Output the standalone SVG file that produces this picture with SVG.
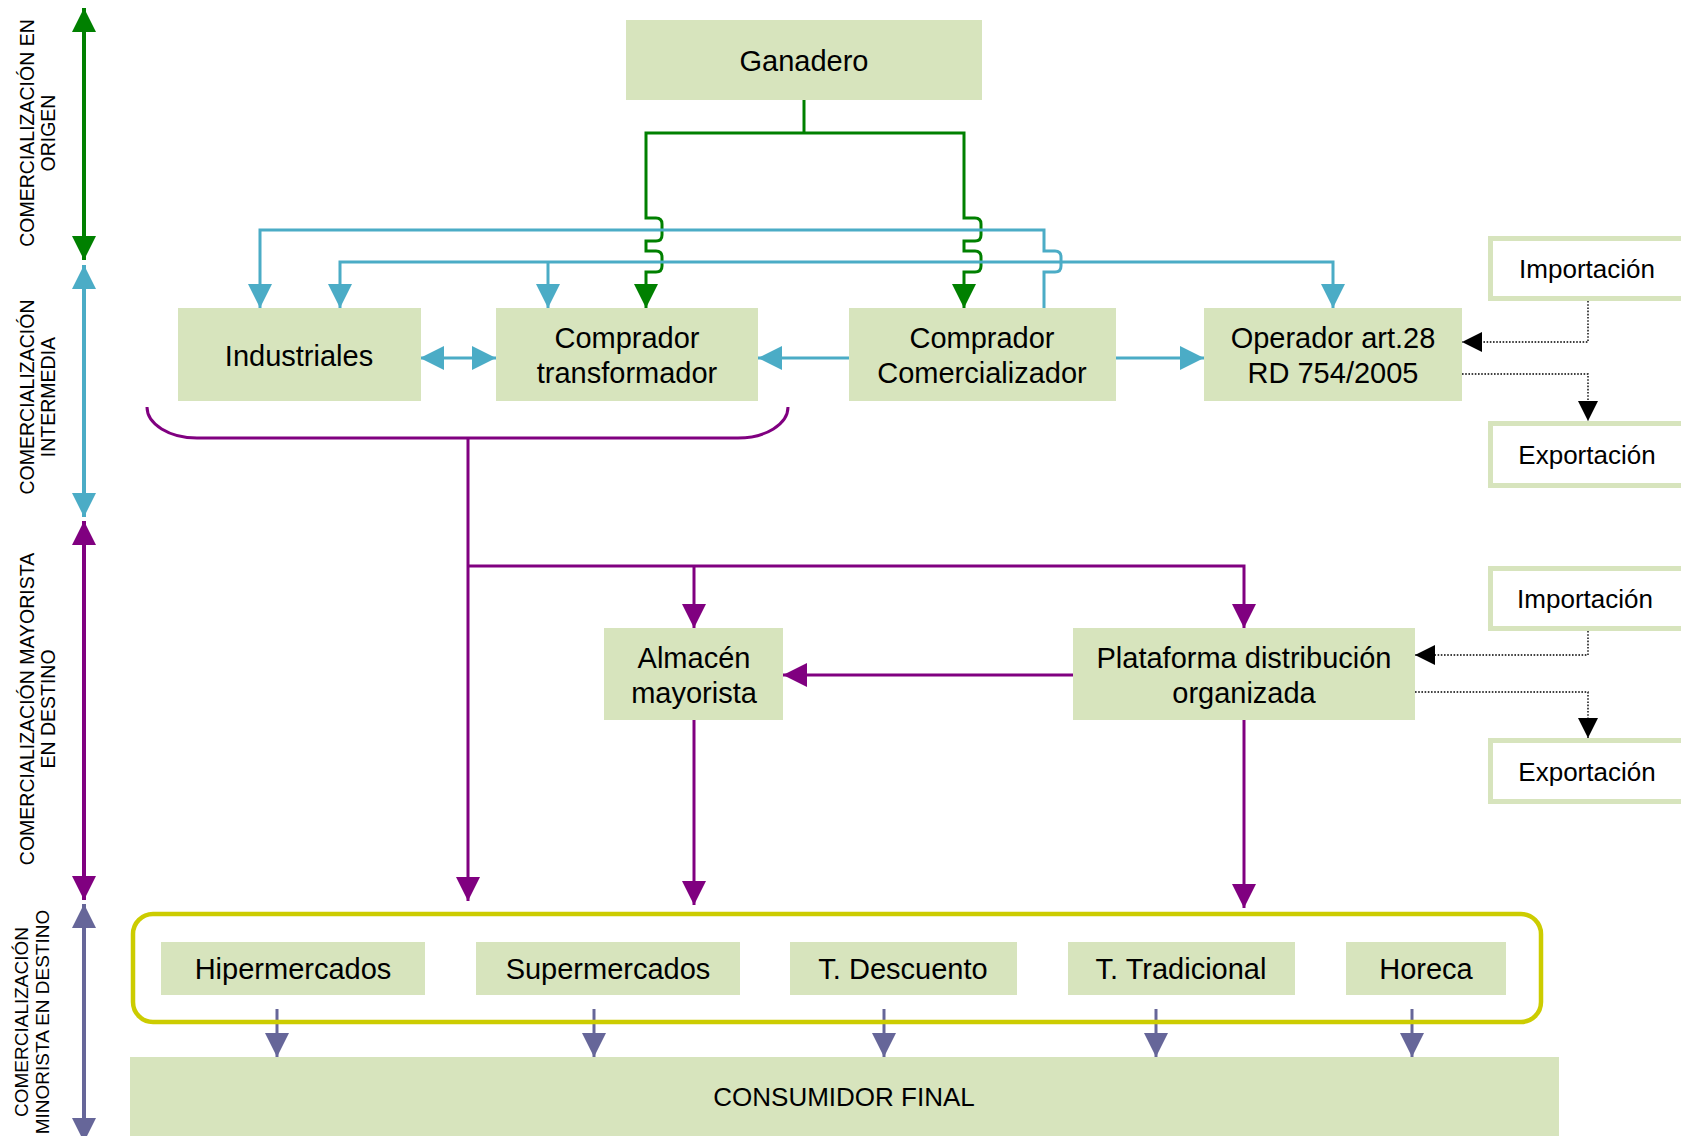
<svg xmlns="http://www.w3.org/2000/svg" width="1681" height="1136" viewBox="0 0 1681 1136">
<style>
.box{fill:#D7E4BD;}
.ext{fill:#FFFFFF;stroke:#D7E4BD;stroke-width:5;}
.t{font-family:"Liberation Sans",Arial,sans-serif;font-size:29px;fill:#000;text-anchor:middle;}
.ts{font-family:"Liberation Sans",Arial,sans-serif;font-size:26px;fill:#000;text-anchor:middle;}
.lab{font-family:"Liberation Sans",Arial,sans-serif;font-size:19.5px;fill:#000;text-anchor:middle;}
.g{fill:none;stroke:#008000;stroke-width:3;}
.b{fill:none;stroke:#4BACC6;stroke-width:3;}
.p{fill:none;stroke:#800080;stroke-width:3;}
.s{fill:none;stroke:#666699;stroke-width:3;}
.d{fill:none;stroke:#000;stroke-width:1.4;stroke-dasharray:1.6,1.6;}
</style>
<defs>
<marker id="aG" markerUnits="userSpaceOnUse" markerWidth="26" markerHeight="26" refX="24" refY="12" orient="auto-start-reverse"><path d="M0,0 L24,12 L0,24 Z" fill="#008000"/></marker>
<marker id="aB" markerUnits="userSpaceOnUse" markerWidth="26" markerHeight="26" refX="24" refY="12" orient="auto-start-reverse"><path d="M0,0 L24,12 L0,24 Z" fill="#4BACC6"/></marker>
<marker id="aP" markerUnits="userSpaceOnUse" markerWidth="26" markerHeight="26" refX="24" refY="12" orient="auto-start-reverse"><path d="M0,0 L24,12 L0,24 Z" fill="#800080"/></marker>
<marker id="aS" markerUnits="userSpaceOnUse" markerWidth="26" markerHeight="26" refX="24" refY="12" orient="auto-start-reverse"><path d="M0,0 L24,12 L0,24 Z" fill="#666699"/></marker>
<marker id="aK" markerUnits="userSpaceOnUse" markerWidth="22" markerHeight="22" refX="20" refY="10" orient="auto"><path d="M0,0 L20,10 L0,20 Z" fill="#000"/></marker>
</defs>

<g id="axis-labels">
<text class="lab" transform="translate(34,133) rotate(-90)">COMERCIALIZACIÓN EN</text>
<text class="lab" transform="translate(55,133) rotate(-90)">ORIGEN</text>
<text class="lab" transform="translate(34,397) rotate(-90)">COMERCIALIZACIÓN</text>
<text class="lab" transform="translate(55,397) rotate(-90)">INTERMEDIA</text>
<text class="lab" transform="translate(34,709) rotate(-90)">COMERCIALIZACIÓN MAYORISTA</text>
<text class="lab" transform="translate(55,709) rotate(-90)">EN DESTINO</text>
<text class="lab" style="font-size:19px" transform="translate(28,1022) rotate(-90)">COMERCIALIZACIÓN</text>
<text class="lab" style="font-size:19px" transform="translate(49,1022) rotate(-90)">MINORISTA EN DESTINO</text>
</g>

<g id="axis-arrows">
<line class="g" style="stroke-width:4" x1="84" y1="8" x2="84" y2="260" marker-start="url(#aG)" marker-end="url(#aG)"/>
<line class="b" style="stroke-width:4" x1="84" y1="265" x2="84" y2="517" marker-start="url(#aB)" marker-end="url(#aB)"/>
<line class="p" style="stroke-width:4" x1="84" y1="521" x2="84" y2="900" marker-start="url(#aP)" marker-end="url(#aP)"/>
<line class="s" style="stroke-width:4" x1="84" y1="904" x2="84" y2="1142" marker-start="url(#aS)" marker-end="url(#aS)"/>
</g>

<g id="connectors">
<!-- green from Ganadero -->
<path class="g" d="M804,100 V133"/>
<path class="g" d="M646,290 V272 H656 Q662,272 662,266 V257 Q662,251 656,251 H646 V241 H656 Q662,241 662,235 V224 Q662,218 656,218 H646 V133 H964 V218 H975 Q981,218 981,224 V235 Q981,241 975,241 H964 V251 H975 Q981,251 981,257 V266 Q981,272 975,272 H964 V308" marker-end="url(#aG)"/>
<path class="g" d="M646,286 V308" marker-end="url(#aG)"/>
<!-- blue line 1 -->
<path class="b" d="M1044,308 V272 H1055 Q1061,272 1061,266 V257 Q1061,251 1055,251 H1044 V230 H260 V308" marker-end="url(#aB)"/>
<!-- blue line 2 -->
<path class="b" d="M340,308 V262 H1333 V308" marker-start="url(#aB)" marker-end="url(#aB)"/>
<path class="b" d="M548,262 V308" marker-end="url(#aB)"/>
<!-- horizontal blue -->
<line class="b" x1="420" y1="358" x2="496" y2="358" marker-start="url(#aB)" marker-end="url(#aB)"/>
<line class="b" x1="849" y1="358" x2="758" y2="358" marker-end="url(#aB)"/>
<line class="b" x1="1116" y1="358" x2="1204" y2="358" marker-end="url(#aB)"/>
<!-- dotted import/export top -->
<path class="d" d="M1588,301 V342 H1462" marker-end="url(#aK)"/>
<path class="d" d="M1462,374 H1588 V421" marker-end="url(#aK)"/>
<!-- purple bracket and flows -->
<path class="p" d="M147,407 A50,31 0 0 0 197,438 H738 A50,31 0 0 0 788,407"/>
<path class="p" d="M468,438 V901" marker-end="url(#aP)"/>
<path class="p" d="M468,566 H1244 V628" marker-end="url(#aP)"/>
<path class="p" d="M694,566 V628" marker-end="url(#aP)"/>
<line class="p" x1="1073" y1="675" x2="783" y2="675" marker-end="url(#aP)"/>
<line class="p" x1="694" y1="720" x2="694" y2="905" marker-end="url(#aP)"/>
<line class="p" x1="1244" y1="720" x2="1244" y2="908" marker-end="url(#aP)"/>
<!-- dotted import/export middle -->
<path class="d" d="M1588,631 V655 H1415" marker-end="url(#aK)"/>
<path class="d" d="M1415,692 H1588 V738" marker-end="url(#aK)"/>
<!-- slate to consumer -->
<line class="s" x1="277" y1="1009" x2="277" y2="1057" marker-end="url(#aS)"/>
<line class="s" x1="594" y1="1009" x2="594" y2="1057" marker-end="url(#aS)"/>
<line class="s" x1="884" y1="1009" x2="884" y2="1057" marker-end="url(#aS)"/>
<line class="s" x1="1156" y1="1009" x2="1156" y2="1057" marker-end="url(#aS)"/>
<line class="s" x1="1412" y1="1009" x2="1412" y2="1057" marker-end="url(#aS)"/>
</g>

<g id="ganadero"><rect class="box" x="626" y="20" width="356" height="80"/><text class="t" x="804" y="71">Ganadero</text></g>
<g id="industriales"><rect class="box" x="178" y="308" width="243" height="93"/><text class="t" x="299" y="366">Industriales</text></g>
<g id="comprador-transformador"><rect class="box" x="496" y="308" width="262" height="93"/><text class="t" x="627" y="348">Comprador</text><text class="t" x="627" y="383">transformador</text></g>
<g id="comprador-comercializador"><rect class="box" x="849" y="308" width="267" height="93"/><text class="t" x="982" y="348">Comprador</text><text class="t" x="982" y="383">Comercializador</text></g>
<g id="operador"><rect class="box" x="1204" y="308" width="258" height="93"/><text class="t" x="1333" y="348">Operador art.28</text><text class="t" x="1333" y="383">RD 754/2005</text></g>
<g id="importacion-1"><rect class="ext" x="1490.5" y="238.5" width="200" height="60"/><text class="ts" x="1587" y="278">Importación</text></g>
<g id="exportacion-1"><rect class="ext" x="1490.5" y="423.5" width="200" height="62"/><text class="ts" x="1587" y="464">Exportación</text></g>
<g id="almacen"><rect class="box" x="604" y="628" width="179" height="92"/><text class="t" x="694" y="668">Almacén</text><text class="t" x="694" y="703">mayorista</text></g>
<g id="plataforma"><rect class="box" x="1073" y="628" width="342" height="92"/><text class="t" x="1244" y="668">Plataforma distribución</text><text class="t" x="1244" y="703">organizada</text></g>
<g id="importacion-2"><rect class="ext" x="1490.5" y="568.5" width="200" height="60"/><text class="ts" x="1585" y="608">Importación</text></g>
<g id="exportacion-2"><rect class="ext" x="1490.5" y="740.5" width="200" height="61"/><text class="ts" x="1587" y="781">Exportación</text></g>
<g id="minoristas"><rect x="133" y="914" width="1408" height="108" rx="20" ry="20" fill="none" stroke="#CCCC00" stroke-width="4.5"/></g>
<g id="hipermercados"><rect class="box" x="161" y="942" width="264" height="53"/><text class="t" x="293" y="979">Hipermercados</text></g>
<g id="supermercados"><rect class="box" x="476" y="942" width="264" height="53"/><text class="t" x="608" y="979">Supermercados</text></g>
<g id="t-descuento"><rect class="box" x="790" y="942" width="227" height="53"/><text class="t" x="903" y="979">T. Descuento</text></g>
<g id="t-tradicional"><rect class="box" x="1068" y="942" width="227" height="53"/><text class="t" x="1181" y="979">T. Tradicional</text></g>
<g id="horeca"><rect class="box" x="1346" y="942" width="160" height="53"/><text class="t" x="1426" y="979">Horeca</text></g>
<g id="consumidor-final"><rect class="box" x="130" y="1057" width="1429" height="79"/><text class="ts" x="844" y="1106">CONSUMIDOR FINAL</text></g>
</svg>
